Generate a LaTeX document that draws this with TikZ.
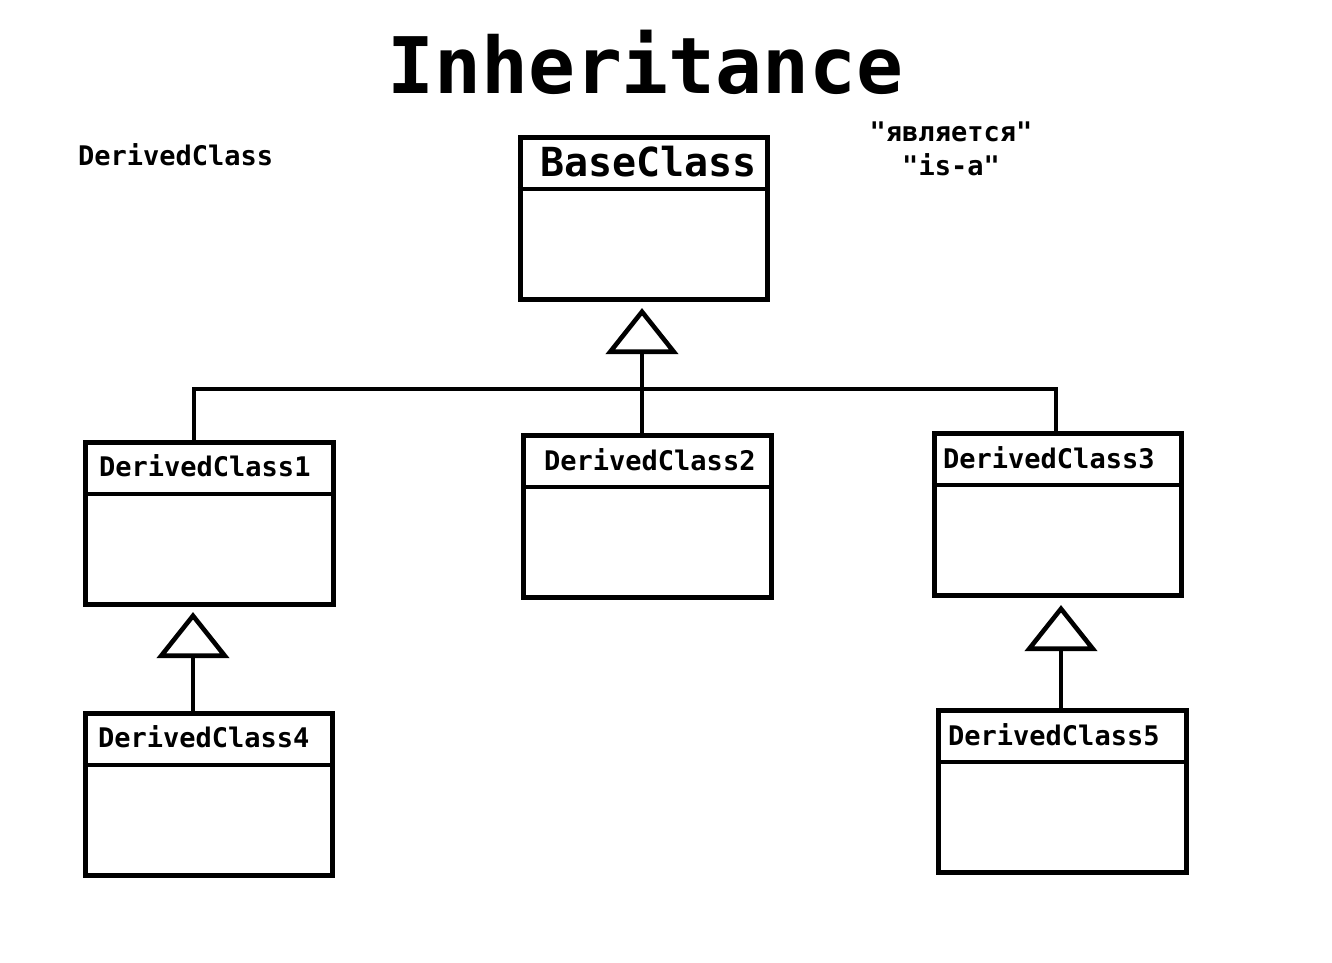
\documentclass[tikz,border=0pt]{standalone}
\usepackage{fontspec}
\newfontfamily\monob{DejaVu Sans Mono Bold}
\usetikzlibrary{arrows.meta}
\begin{document}
\begin{tikzpicture}[x=1pt,y=-1pt,
  cls/.style={draw,line width=4.6pt,inner sep=0pt,minimum width=247.5pt,minimum height=162.5pt},
  divider/.style={line width=4.6pt},
  lbl/.style={anchor=base west,inner sep=0pt,font=\monob\fontsize{27}{30}\selectfont},
  conn/.style={line width=4.6pt,line join=miter},
  inh/.style={conn,-{Triangle[open,length=46pt,width=72pt,line join=miter]}}
]
\useasboundingbox (0,0) rectangle (1332,962);
% title and notes
\node[anchor=base west,inner sep=0pt,font=\monob\fontsize{78}{82}\selectfont] (title) at (387,93) {Inheritance};
\node[lbl] (note) at (78,165) {DerivedClass};
\node[lbl,anchor=base] (ru) at (951,141) {"является"};
\node[lbl,anchor=base] (isa) at (951,175) {"is-a"};
% class boxes
\node[cls] (base) at (644,218.5) {};
\node[cls] (dc1) at (209.5,523.5) {};
\node[cls] (dc2) at (647.5,516.5) {};
\node[cls] (dc3) at (1058,514.5) {};
\node[cls] (dc4) at (209,794.5) {};
\node[cls] (dc5) at (1062.5,791.5) {};
\foreach \b in {base,dc1,dc2,dc3,dc4,dc5}{
  \draw[divider] ([yshift=-54pt]\b.north west) -- ([yshift=-54pt]\b.north east);
}
% class names
\node[anchor=base west,inner sep=0pt,font=\monob\fontsize{40}{44}\selectfont] (baseT) at (540,176) {BaseClass};
\node[lbl] (dc1T) at (99,476) {DerivedClass1};
\node[lbl] (dc2T) at (544,470) {DerivedClass2};
\node[lbl] (dc3T) at (943,468) {DerivedClass3};
\node[lbl] (dc4T) at (98,747) {DerivedClass4};
\node[lbl] (dc5T) at (948,745) {DerivedClass5};
% connectors
\coordinate (j) at (642,389);
\coordinate (jl) at (194,389);
\coordinate (jr) at (1056,389);
\coordinate (x4) at (193,0);
\coordinate (x5) at (1061,0);
\draw[inh,shorten >=6pt] (j) -- (j |- base.south);
\draw[conn] (jl |- dc1.north) -- (jl) -- (jr) -- (jr |- dc3.north);
\draw[conn] (j) -- (j |- dc2.north);
\draw[inh,shorten >=5pt] (x4 |- dc4.north) -- (x4 |- dc1.south);
\draw[inh,shorten >=7pt] (x5 |- dc5.north) -- (x5 |- dc3.south);
\end{tikzpicture}
\end{document}
